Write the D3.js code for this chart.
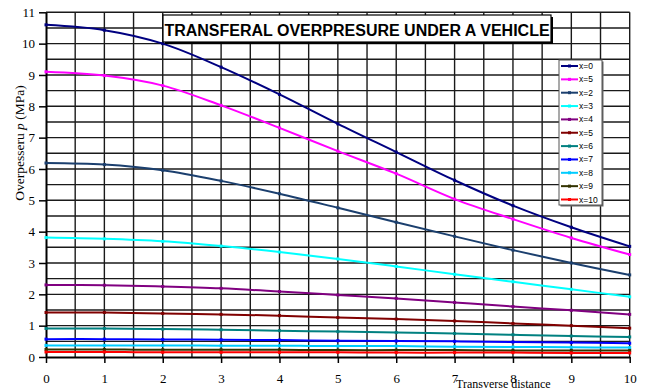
<html>
<head>
<meta charset="UTF-8">
<script src="https://cdnjs.cloudflare.com/ajax/libs/d3/7.8.5/d3.min.js"></script>
<style>
  body { margin: 0; background: #fff; }
  svg { display: block; }
</style>
</head>
<body>
<div id="chart"></div>
<script>
var W = 646, H = 390;
var m = {left: 46, right: 16.3, top: 12.3, bottom: 33};

// transverse distance (x axis)
var xs = [0, 1, 2, 3, 4, 5, 6, 7, 8, 9, 10];
var seriesNames = ["x=0", "x=5", "x=2", "x=3", "x=4", "x=5", "x=6", "x=7", "x=8", "x=9", "x=10"];
var seriesColors = ["#000080", "#ff00ff", "#1b3f6e", "#00ffff", "#800080", "#800000", "#008080", "#0000ff", "#00ccff", "#333300", "#ff0000"];
// overpressure p (MPa) per series
var p_x0  = [10.6, 10.43, 10.0, 9.25, 8.38, 7.44, 6.54, 5.64, 4.83, 4.14, 3.53];
var p_x5a = [9.1, 8.98, 8.66, 8.03, 7.31, 6.57, 5.85, 5.04, 4.4, 3.8, 3.27];
var p_x2  = [6.19, 6.14, 5.96, 5.62, 5.21, 4.76, 4.3, 3.85, 3.41, 3.0, 2.62];
var p_x3  = [3.81, 3.77, 3.69, 3.54, 3.35, 3.13, 2.89, 2.64, 2.4, 2.16, 1.92];
var p_x4  = [2.3, 2.29, 2.25, 2.19, 2.09, 1.98, 1.87, 1.74, 1.61, 1.49, 1.36];
var p_x5  = [1.42, 1.42, 1.39, 1.36, 1.32, 1.26, 1.21, 1.15, 1.07, 1.0, 0.92];
var p_x6  = [0.91, 0.91, 0.89, 0.87, 0.84, 0.81, 0.78, 0.75, 0.71, 0.67, 0.64];
var p_x7  = [0.57, 0.57, 0.56, 0.55, 0.54, 0.52, 0.51, 0.5, 0.48, 0.46, 0.44];
var p_x8  = [0.37, 0.37, 0.37, 0.36, 0.36, 0.35, 0.35, 0.33, 0.32, 0.31, 0.3];
var p_x9  = [0.24, 0.24, 0.23, 0.23, 0.23, 0.22, 0.22, 0.22, 0.21, 0.21, 0.21];
var p_x10 = [0.16, 0.16, 0.15, 0.15, 0.15, 0.15, 0.14, 0.14, 0.14, 0.13, 0.13];
var seriesValues = [p_x0, p_x5a, p_x2, p_x3, p_x4, p_x5, p_x6, p_x7, p_x8, p_x9, p_x10];
var yTicks = [0, 1, 2, 3, 4, 5, 6, 7, 8, 9, 10, 11];
var xTicks = [0, 1, 2, 3, 4, 5, 6, 7, 8, 9, 10];
var xGrid = [0.5, 1, 1.5, 2, 2.5, 3, 3.5, 4, 4.5, 5, 5.5, 6, 6.5, 7, 7.5, 8, 8.5, 9, 9.5, 10];
var yGrid = [0.5, 1, 1.5, 2, 2.5, 3, 3.5, 4, 4.5, 5, 5.5, 6, 6.5, 7, 7.5, 8, 8.5, 9, 9.5, 10, 10.5, 11];

var SERIF = "Liberation Serif";
var SANS = "Liberation Sans";

var svg = d3.select("#chart").append("svg").attr("width", W).attr("height", H);
var x = d3.scaleLinear().domain([0, 10]).range([m.left, W - m.right]);
var y = d3.scaleLinear().domain([0, 11]).range([H - m.bottom, m.top]);

// grid every 0.5
var grid = svg.append("g");
grid.selectAll("line.gx").data(xGrid).enter().append("line").attr("class", "gx")
  .attr("x1", function(d){ return x(d); }).attr("x2", function(d){ return x(d); })
  .attr("y1", y(0)).attr("y2", y(11))
  .style("stroke", "#1a1a1a").style("stroke-width", "1.4px");
grid.selectAll("line.gy").data(yGrid).enter().append("line").attr("class", "gy")
  .attr("x1", x(0)).attr("x2", x(10))
  .attr("y1", function(d){ return y(d); }).attr("y2", function(d){ return y(d); })
  .style("stroke", "#1a1a1a").style("stroke-width", "1.4px");

// axes
var gy = svg.append("g").attr("transform", "translate(" + m.left + ",0)")
  .call(d3.axisLeft(y).tickValues(yTicks).tickSize(7).tickSizeOuter(0).tickPadding(4).tickFormat(d3.format("d")));
var gx = svg.append("g").attr("transform", "translate(0," + (H - m.bottom) + ")")
  .call(d3.axisBottom(x).tickValues(xTicks).tickSize(6).tickSizeOuter(0).tickPadding(11).tickFormat(d3.format("d")));
gy.attr("font-family", SERIF).attr("font-size", 13);
gx.attr("font-family", SERIF).attr("font-size", 13);
gy.select(".domain").style("stroke-width", "2px");
gx.select(".domain").style("stroke-width", "2px");
gy.selectAll(".tick line").style("stroke-width", "1.5px");
gx.selectAll(".tick line").style("stroke-width", "1.5px");

// series
var lineGen = d3.line().x(function(d, i){ return x(xs[i]); }).y(function(d){ return y(d); }).curve(d3.curveCatmullRom);
var plot = svg.append("g");
seriesValues.forEach(function(vals, k){
  plot.append("path").attr("d", lineGen(vals)).attr("fill", "none")
    .attr("stroke", seriesColors[k]).attr("stroke-width", 2);
  plot.selectAll(null).data(vals).enter().append("rect")
    .attr("x", function(d, i){ return x(xs[i]) - 1.5; })
    .attr("y", function(d){ return y(d) - 1.5; })
    .attr("width", 3).attr("height", 3)
    .attr("fill", seriesColors[k]);
});

// title box
var tb = {x: 163, y: 15, w: 388, h: 27};
svg.append("rect").attr("x", tb.x + 2).attr("y", tb.y + 2).attr("width", tb.w).attr("height", tb.h).attr("fill", "#000");
svg.append("rect").attr("x", tb.x).attr("y", tb.y).attr("width", tb.w).attr("height", tb.h)
  .attr("fill", "#fff").attr("stroke", "#000").attr("stroke-width", 1.2);
svg.append("text").attr("x", tb.x + tb.w / 2).attr("y", tb.y + 20.5).attr("text-anchor", "middle")
  .attr("font-family", SANS).attr("font-weight", "bold").attr("font-size", 16)
  .text("TRANSFERAL OVERPRESURE UNDER A VEHICLE");

// legend
var lg = {x: 559, y: 60, w: 43, h: 145, step: 13.35};
svg.append("rect").attr("x", lg.x + 1.5).attr("y", lg.y + 1.5).attr("width", lg.w).attr("height", lg.h).attr("fill", "#666");
svg.append("rect").attr("x", lg.x).attr("y", lg.y).attr("width", lg.w).attr("height", lg.h)
  .attr("fill", "#fff").attr("stroke", "#555").attr("stroke-width", 1);
seriesNames.forEach(function(name, k){
  var yy = lg.y + 6 + k * lg.step;
  svg.append("line").attr("x1", lg.x + 2).attr("x2", lg.x + 19).attr("y1", yy).attr("y2", yy)
    .attr("stroke", seriesColors[k]).attr("stroke-width", 2);
  svg.append("rect").attr("x", lg.x + 9).attr("y", yy - 1.5).attr("width", 3).attr("height", 3).attr("fill", seriesColors[k]);
  svg.append("text").attr("x", lg.x + 20).attr("y", yy + 3).attr("font-family", SANS).attr("font-size", 8.5)
    .attr("fill", "#000").text(name);
});

// axis titles
svg.append("text").attr("x", 456).attr("y", 387.5).attr("font-family", SERIF).attr("font-size", 12)
  .text("Transverse distance");
var yt = svg.append("text").attr("transform", "translate(24,143) rotate(-90)").attr("text-anchor", "middle")
  .attr("font-family", SERIF).attr("font-size", 13.5);
yt.append("tspan").text("Overpesseru ");
yt.append("tspan").attr("font-style", "italic").text("p");
yt.append("tspan").text(" (MPa)");
</script>
</body>
</html>
